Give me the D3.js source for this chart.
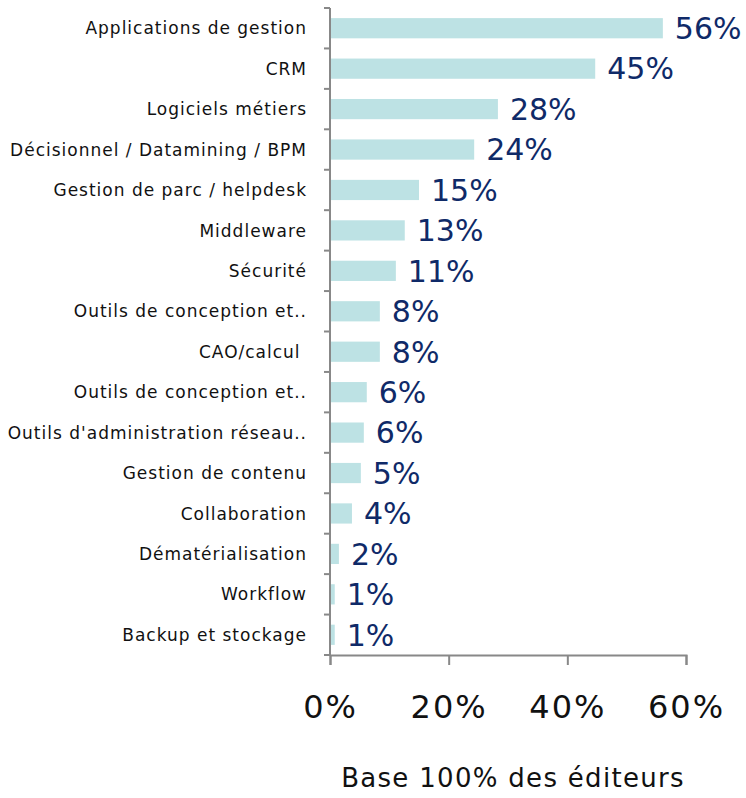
<!DOCTYPE html>
<html lang="fr">
<head>
    <meta charset="UTF-8">
    <title>Editeurs</title>
    <script src="https://cdn.jsdelivr.net/npm/d3@7"></script>
    <style>
        body { margin: 0; background: #fff; }
        svg text { font-family: "DejaVu Sans", Verdana, sans-serif; }
    </style>
</head>
<body>
    <div id="chart"></div>
    <script>
        const categories = [
            'Applications de gestion', 'CRM', 'Logiciels métiers', 'Décisionnel / Datamining / BPM',
            'Gestion de parc / helpdesk', 'Middleware', 'Sécurité', 'Outils de conception et..',
            'CAO/calcul ', 'Outils de conception et..', "Outils d'administration réseau..",
            'Gestion de contenu', 'Collaboration', 'Dématérialisation', 'Workflow', 'Backup et stockage'
        ]
        const values = [56.1, 44.7, 28.3, 24.3, 15.0, 12.6, 11.1, 8.4, 8.4, 6.2, 5.7, 5.2, 3.7, 1.5, 0.8, 0.8]
        const valueLabels = ['56%', '45%', '28%', '24%', '15%', '13%', '11%', '8%', '8%', '6%', '6%', '5%', '4%', '2%', '1%', '1%']
        const xTicks = [0, 20, 40, 60]
        const axisTitle = 'Base 100% des éditeurs'

        const w = 746, h = 798
        const plotLeft = 330, plotRight = 686, plotTop = 8, plotBottom = 655

        const svg = d3.select('#chart').append('svg')
            .attr('width', w)
            .attr('height', h)

        const data = categories.map((c, i) => ({ key: i, name: c, value: values[i], label: valueLabels[i] }))

        const xScale = d3.scaleLinear().domain([0, 60]).range([plotLeft, plotRight])
        const yScale = d3.scaleBand().domain(data.map(d => d.key)).range([plotTop, plotBottom]).paddingInner(0.5).paddingOuter(0.25)

        // bars
        svg.selectAll('rect')
            .data(data)
            .enter()
            .append('rect')
            .attr('x', xScale(0))
            .attr('y', d => yScale(d.key))
            .attr('width', d => xScale(d.value) - xScale(0))
            .attr('height', yScale.bandwidth())
            .attr('fill', '#bde2e4')

        // value labels
        svg.selectAll('.val')
            .data(data)
            .enter()
            .append('text')
            .attr('class', 'val')
            .attr('x', d => xScale(d.value) + 12)
            .attr('y', d => yScale(d.key) + yScale.bandwidth() / 2)
            .attr('dy', '0.36em')
            .attr('font-size', 30)
            .attr('fill', '#0f2a68')
            .text(d => d.label)

        // category labels
        svg.selectAll('.cat')
            .data(data)
            .enter()
            .append('text')
            .attr('class', 'cat')
            .attr('x', 307)
            .attr('y', d => yScale(d.key) + yScale.bandwidth() / 2)
            .attr('dy', '0.36em')
            .attr('text-anchor', 'end')
            .attr('font-size', 17)
            .attr('letter-spacing', 1)
            .attr('fill', '#111')
            .style('white-space', 'pre')
            .text(d => d.name)

        // y axis with ticks between categories
        const step = (plotBottom - plotTop) / categories.length
        const yLine = svg.append('g').attr('stroke', '#888').attr('stroke-width', 2)
        yLine.append('line').attr('x1', plotLeft).attr('x2', plotLeft).attr('y1', plotTop).attr('y2', plotBottom)
        yLine.selectAll('.yt')
            .data(d3.range(categories.length + 1))
            .enter()
            .append('line')
            .attr('x1', plotLeft - 6).attr('x2', plotLeft)
            .attr('y1', i => plotTop + i * step).attr('y2', i => plotTop + i * step)

        // x axis
        const xAxis = d3.axisBottom(xScale).tickValues(xTicks).tickSize(10).tickFormat(d => d + '%')
        const gx = svg.append('g')
            .attr('transform', `translate(0, ${plotBottom})`)
            .call(xAxis)
        gx.select('.domain').attr('stroke', '#888').attr('stroke-width', 2)
        gx.selectAll('.tick line').attr('stroke', '#888').attr('stroke-width', 2)
        gx.selectAll('.tick text')
            .attr('font-size', 32)
            .attr('letter-spacing', 2)
            .attr('fill', '#111')
            .attr('y', 51)
            .attr('dy', '0.36em')
            .style('font-family', '"DejaVu Sans", Verdana, sans-serif')

        svg.append('text')
            .attr('x', 513)
            .attr('y', 787)
            .attr('text-anchor', 'middle')
            .attr('font-size', 26)
            .attr('letter-spacing', 1.3)
            .attr('fill', '#111')
            .text(axisTitle)
    </script>
</body>
</html>
